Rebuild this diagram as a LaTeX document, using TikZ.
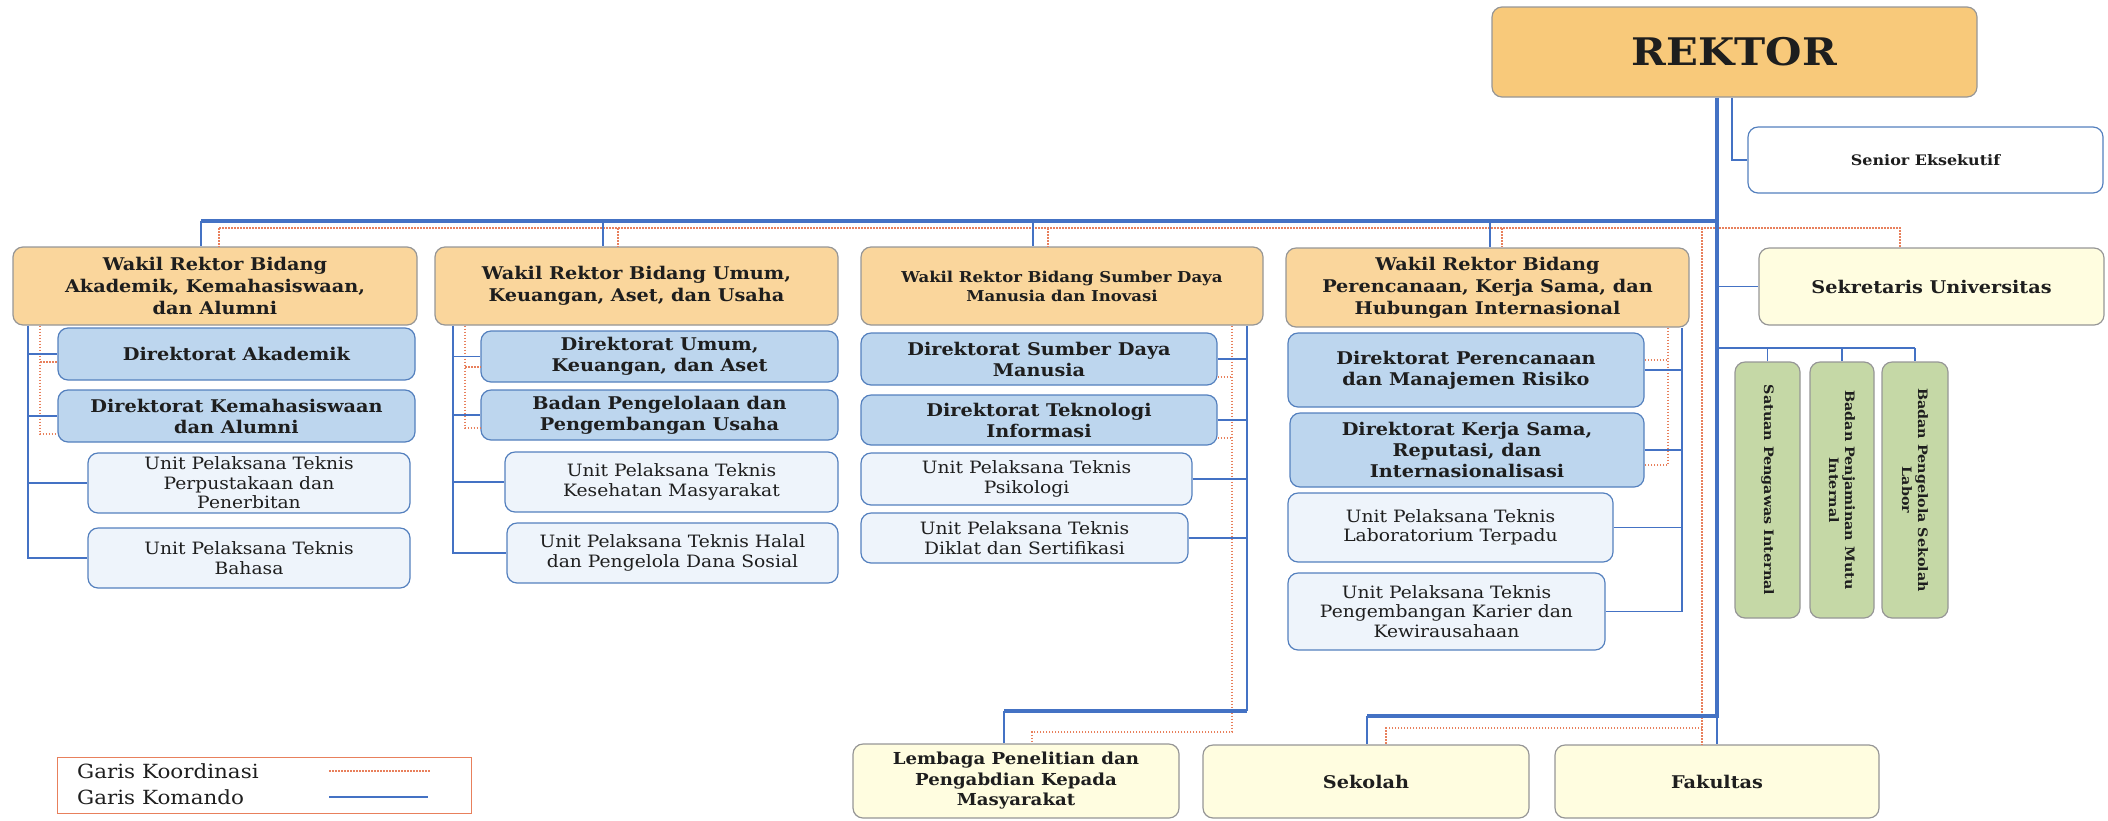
\documentclass[tikz,border=0pt]{standalone}
\usepackage{fontspec}
\setmainfont{DejaVu Serif}[FakeStretch=1.1]
\definecolor{rektorfill}{RGB}{248,201,122}
\definecolor{wakilfill}{RGB}{250,214,156}
\definecolor{dirfill}{RGB}{189,214,238}
\definecolor{uptfill}{RGB}{238,244,251}
\definecolor{creamfill}{RGB}{255,253,224}
\definecolor{greenfill}{RGB}{197,216,166}
\definecolor{grayline}{RGB}{150,150,150}
\definecolor{blueline}{RGB}{84,128,190}
\definecolor{cmdblue}{RGB}{68,114,196}
\definecolor{coordred}{RGB}{232,128,92}
\definecolor{inktext}{RGB}{30,30,30}

\tikzset{
  orgbox/.style={draw=grayline, line width=1.2pt, rounded corners=10pt, align=center, inner sep=1pt, text=inktext},
  sz/.style 2 args={minimum width=#1pt, minimum height=#2pt},
  wakilbox/.style={orgbox, fill=wakilfill, font=\bfseries\fontsize{17.5}{22}\selectfont},
  dirbox/.style={orgbox, draw=blueline, fill=dirfill, font=\bfseries\fontsize{17.5}{21}\selectfont},
  uptbox/.style={orgbox, draw=blueline, fill=uptfill, font=\fontsize{17}{19.5}\selectfont},
  creambox/.style={orgbox, fill=creamfill, font=\bfseries\fontsize{17.5}{21}\selectfont},
  greenbox/.style={orgbox, fill=greenfill, rotate=-90, font=\bfseries\fontsize{13}{16}\selectfont},
  cmd/.style={cmdblue, line width=1.5pt},
  cmdbold/.style={cmdblue, line width=4pt},
  coord/.style={coordred, line width=1.4pt, dash pattern=on 1.5pt off 1.5pt},
}

\begin{document}
\begin{tikzpicture}[x=1pt, y=-1pt]
\useasboundingbox (0,0) rectangle (2108,820);

\node[orgbox, fill=rektorfill, sz={485}{90}, font=\bfseries\fontsize{38}{44}\selectfont] (rektor) at (1734.5,52) {REKTOR};
\node[orgbox, draw=blueline, fill=white, sz={355}{66}, font=\bfseries\fontsize{14.5}{18}\selectfont] (senior) at (1925.5,160) {Senior Eksekutif};

\node[wakilbox, sz={404}{78}] (wr1) at (215,286) {Wakil Rektor Bidang\\Akademik, Kemahasiswaan,\\dan Alumni};
\node[wakilbox, sz={403}{78}] (wr2) at (636.5,286) {Wakil Rektor Bidang Umum,\\Keuangan, Aset, dan Usaha};
\node[wakilbox, sz={402}{78}, font=\bfseries\fontsize{15}{19}\selectfont] (wr3) at (1062,286) {Wakil Rektor Bidang Sumber Daya\\Manusia dan Inovasi};
\node[wakilbox, sz={403}{79}] (wr4) at (1487.5,287.5) {Wakil Rektor Bidang\\Perencanaan, Kerja Sama, dan\\Hubungan Internasional};
\node[creambox, sz={345}{77}] (sekuniv) at (1931.5,286.5) {Sekretaris Universitas};

\node[dirbox, sz={357}{52}] (dirak) at (236.5,354) {Direktorat Akademik};
\node[dirbox, sz={357}{52}] (dirkem) at (236.5,416) {Direktorat Kemahasiswaan\\dan Alumni};
\node[uptbox, sz={322}{60}] (uptpus) at (249,483) {Unit Pelaksana Teknis\\Perpustakaan dan\\Penerbitan};
\node[uptbox, sz={322}{60}] (uptbhs) at (249,558) {Unit Pelaksana Teknis\\Bahasa};

\node[dirbox, sz={357}{51}] (dirum) at (659.5,356.5) {Direktorat Umum,\\Keuangan, dan Aset};
\node[dirbox, sz={357}{50}] (bppu) at (659.5,415) {Badan Pengelolaan dan\\Pengembangan Usaha};
\node[uptbox, sz={333}{60}] (uptkes) at (671.5,482) {Unit Pelaksana Teknis\\Kesehatan Masyarakat};
\node[uptbox, sz={331}{60}] (upthal) at (672.5,553) {Unit Pelaksana Teknis Halal\\dan Pengelola Dana Sosial};

\node[dirbox, sz={356}{52}] (dirsdm) at (1039,359) {Direktorat Sumber Daya\\Manusia};
\node[dirbox, sz={356}{50}] (dirti) at (1039,420) {Direktorat Teknologi\\Informasi};
\node[uptbox, sz={331}{52}] (uptpsi) at (1026.5,479) {Unit Pelaksana Teknis\\Psikologi};
\node[uptbox, sz={327}{50}] (uptdik) at (1024.5,538) {Unit Pelaksana Teknis\\Diklat dan Sertifikasi};

\node[dirbox, sz={356}{74}] (dirren) at (1466,370) {Direktorat Perencanaan\\dan Manajemen Risiko};
\node[dirbox, sz={354}{74}] (dirker) at (1467,450) {Direktorat Kerja Sama,\\Reputasi, dan\\Internasionalisasi};
\node[uptbox, sz={325}{69}] (uptlab) at (1450.5,527.5) {Unit Pelaksana Teknis\\Laboratorium Terpadu};
\node[uptbox, sz={317}{77}] (uptkar) at (1446.5,611.5) {Unit Pelaksana Teknis\\Pengembangan Karier dan\\Kewirausahaan};

\node[greenbox, sz={256}{65}] (spi) at (1767.5,490) {Satuan Pengawas Internal};
\node[greenbox, sz={256}{64}] (bpmi) at (1842,490) {Badan Penjaminan Mutu\\Internal};
\node[greenbox, sz={256}{66}] (bpsl) at (1915,490) {Badan Pengelola Sekolah\\Labor};

\node[creambox, sz={326}{74}, font=\bfseries\fontsize{16.5}{20.5}\selectfont] (lppm) at (1016,781) {Lembaga Penelitian dan\\Pengabdian Kepada\\Masyarakat};
\node[creambox, sz={326}{73}] (sekolah) at (1366,781.5) {Sekolah};
\node[creambox, sz={324}{73}] (fak) at (1717,781.5) {Fakultas};

\node[draw=coordred, line width=1pt, sz={414}{56}] (legend) at (264,785) {};
\node[anchor=west, inner sep=0pt, text=inktext, font=\fontsize{19.5}{21}\selectfont] (lkoor) at (77,771) {Garis Koordinasi};
\node[anchor=west, inner sep=0pt, text=inktext, font=\fontsize{19.5}{21}\selectfont] (lkom) at (77,797) {Garis Komando};
\draw[coord] (lkoor.east -| 329,0) -- (lkoor.east -| 430,0);
\draw[cmd] (lkom.east -| 329,0) -- (lkom.east -| 428,0);

\coordinate (hub) at (1717,221);
\coordinate (hubend) at (1717,716);
\coordinate (sbar) at (1367,716);
\coordinate (lbar) at (1004,711);
\coordinate (gbar) at (1717,348);
\coordinate (d1) at (201,221);
\coordinate (d2) at (603,221);
\coordinate (d3) at (1033,221);
\coordinate (d4) at (1490,221);
\coordinate (s1) at (28,0);
\coordinate (s2) at (453,0);
\coordinate (s3) at (1247,0);
\coordinate (s4) at (1682,0);
\coordinate (c1) at (219,228);
\coordinate (c2) at (618,228);
\coordinate (c3) at (1048,228);
\coordinate (c4) at (1502,228);
\coordinate (c5) at (1702,228);
\coordinate (c6) at (1900,228);
\coordinate (k1) at (40,0);
\coordinate (k2) at (465,0);
\coordinate (k3) at (1232,0);
\coordinate (k4) at (1668,0);
\coordinate (ks) at (1386,728);
\coordinate (kl) at (1032,732);

\draw[coord] (c1) -- (c6) -- (c6 |- sekuniv.north);
\foreach \c/\w in {c1/wr1, c2/wr2, c3/wr3, c4/wr4}
  \draw[coord] (\c) -- (\c |- \w.north);
\draw[coord] (c5) -- (c5 |- fak.north);
\draw[coord] (c5 |- ks) -- (ks) -- (ks |- sekolah.north);
\draw[coord] (k1 |- wr1.south) -- (k1 |- 0,434) -- (dirkem.west |- 0,434);
\draw[coord] (k1 |- 0,362) -- (dirak.west |- 0,362);
\draw[coord] (k2 |- wr2.south) -- (k2 |- 0,428) -- (bppu.west |- 0,428);
\draw[coord] (k2 |- 0,367) -- (dirum.west |- 0,367);
\draw[coord] (k3 |- wr3.south) |- (kl) -- (kl |- lppm.north);
\draw[coord] (dirsdm.east |- 0,377) -- (k3 |- 0,377);
\draw[coord] (dirti.east |- 0,438) -- (k3 |- 0,438);
\draw[coord] (k4 |- wr4.south) -- (k4 |- 0,465) -- (dirker.east |- 0,465);
\draw[coord] (dirren.east |- 0,360) -- (k4 |- 0,360);

\draw[cmdbold] (rektor.south -| hub) -- (hubend) -- (sbar);
\draw[cmdbold] (d1) -- (hub);
\draw[cmd] (rektor.south -| 1732,0) |- (senior.west);
\foreach \d/\w in {d1/wr1, d2/wr2, d3/wr3, d4/wr4}
  \draw[cmd] (\d) -- (\d |- \w.north);
\draw[cmd] (hub |- sekuniv.west) -- (sekuniv.west);
\draw[cmd] (gbar) -- (gbar -| bpsl.west);
\foreach \g in {spi, bpmi, bpsl}
  \draw[cmd] (\g.west |- gbar) -- (\g.west);
\draw[cmd] (sbar) -- (sbar |- sekolah.north);
\draw[cmd] (hubend) -- (hubend |- fak.north);

\draw[cmd] (s1 |- wr1.south) |- (uptbhs.west);
\foreach \n in {dirak, dirkem, uptpus}
  \draw[cmd] (s1 |- \n.west) -- (\n.west);
\draw[cmd] (s2 |- wr2.south) |- (upthal.west);
\foreach \n in {dirum, bppu, uptkes}
  \draw[cmd] (s2 |- \n.west) -- (\n.west);
\draw[cmd] (s3 |- wr3.south) -- (s3 |- lbar);
\draw[cmdbold] (s3 |- lbar) -- (lbar);
\draw[cmd] (lbar) -- (lbar |- lppm.north);
\foreach \n in {dirsdm, dirti, uptpsi, uptdik}
  \draw[cmd] (\n.east) -- (s3 |- \n.east);
\draw[cmd] (s4 |- wr4.south) |- (uptkar.east);
\foreach \n in {dirren, dirker, uptlab}
  \draw[cmd] (\n.east) -- (s4 |- \n.east);
\end{tikzpicture}
\end{document}
